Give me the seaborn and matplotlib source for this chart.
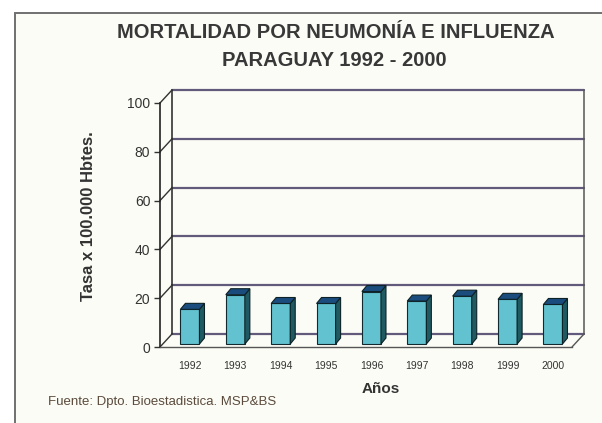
import matplotlib
matplotlib.use("Agg")
import matplotlib.pyplot as plt
import seaborn as sns
import pandas as pd
from matplotlib.transforms import ScaledTranslation
from matplotlib.patches import Polygon, Rectangle
from matplotlib.lines import Line2D

# ---- data ----
years = ["1992", "1993", "1994", "1995", "1996", "1997", "1998", "1999", "2000"]
rates = [14.2, 20.2, 16.6, 16.6, 21.5, 17.6, 19.6, 18.3, 16.2]
y_ticks = [0, 20, 40, 60, 80, 100]

title_lines = ["MORTALIDAD POR NEUMONÍA E INFLUENZA", "PARAGUAY 1992 - 2000"]
y_label = "Tasa x 100.000 Hbtes."
x_label = "Años"
source = "Fuente: Dpto. Bioestadistica. MSP&BS"

sns.set_theme(style="white")
plt.rcParams["font.family"] = ["Liberation Sans", "DejaVu Sans"]

W, H, DPI = 602, 423, 100
fig = plt.figure(figsize=(W / DPI, H / DPI), dpi=DPI)
fig.patch.set_facecolor("white")

# outer frame of the page
fig.patches.append(Rectangle((15 / W, -0.05), 1.1, (H - 13) / H + 0.05,
                             transform=fig.transFigure, facecolor="#fcfcf6",
                             edgecolor="#707070", lw=1.4, zorder=-5))

# axes = front plane of the 3D box
ax = fig.add_axes([160 / W, (H - 347) / H, (572 - 160) / W, (347 - 103) / H])
ax.set_facecolor("none")
ax.set_zorder(1)

df = pd.DataFrame({"year": years, "rate": rates})
front_col = "#63c2cf"
side_col = "#1f5a62"
top_col = "#1b4c7e"
sns.barplot(data=df, x="year", y="rate", color=front_col, width=0.42,
            saturation=1, edgecolor="#102a30", linewidth=0.8, ax=ax, zorder=5)

ax.set_ylim(0, 100)
ax.set_xlim(-0.66, 8.42)
ax.set_yticks(y_ticks)

# depth offsets
wall_dx, wall_dy = 12 / DPI, 13 / DPI
wall_tr = ax.transAxes + ScaledTranslation(wall_dx, wall_dy, fig.dpi_scale_trans)
wall_data_tr = ax.transData + ScaledTranslation(wall_dx, wall_dy, fig.dpi_scale_trans)
grid_col = "#625a7a"
xl = ax.get_xlim()

# back wall grid lines and left wall connectors
for t in y_ticks:
    ax.add_line(Line2D([xl[0], xl[1]], [t, t], transform=wall_data_tr,
                       color=grid_col, lw=1.6, zorder=1, clip_on=False))
    p0 = ax.transData.transform((xl[0], t))
    p1 = wall_data_tr.transform((xl[0], t))
    ax.add_line(Line2D([p0[0], p1[0]], [p0[1], p1[1]], transform=None,
                       color="#333333", lw=1.0, zorder=2, clip_on=False))

# back wall left and right verticals
ax.add_line(Line2D([0, 0], [0, 1], transform=wall_tr, color="#222222", lw=1.1,
                   zorder=1, clip_on=False))
ax.add_line(Line2D([1, 1], [0, 1], transform=wall_tr, color="#555555", lw=1.1,
                   zorder=1, clip_on=False))
q0 = ax.transAxes.transform((1, 0))
q1 = wall_tr.transform((1, 0))
ax.add_line(Line2D([q0[0], q1[0]], [q0[1], q1[1]], transform=None,
                   color="#555555", lw=1.0, zorder=2, clip_on=False))

# bars: slight shift into depth, then draw side and top faces
bar_tr = ax.transData + ScaledTranslation(0.0, 3 / DPI, fig.dpi_scale_trans)
bdx, bdy = 5, 6
for p in list(ax.patches):
    p.set_transform(bar_tr)
    x0, y0 = p.get_x(), p.get_y()
    w, h = p.get_width(), p.get_height()
    br = bar_tr.transform((x0 + w, y0))
    tl = bar_tr.transform((x0, y0 + h))
    trc = bar_tr.transform((x0 + w, y0 + h))
    side = Polygon([br, trc, (trc[0] + bdx, trc[1] + bdy), (br[0] + bdx, br[1] + bdy)],
                   closed=True, transform=None, facecolor=side_col,
                   edgecolor="#0c2226", lw=0.8, zorder=6, clip_on=False)
    top = Polygon([tl, trc, (trc[0] + bdx, trc[1] + bdy), (tl[0] + bdx, tl[1] + bdy)],
                  closed=True, transform=None, facecolor=top_col,
                  edgecolor="#0c2226", lw=0.8, zorder=6, clip_on=False)
    ax.add_artist(side)
    ax.add_artist(top)

# spines
for s in ["top", "right"]:
    ax.spines[s].set_visible(False)
ax.spines["left"].set_color("#222222")
ax.spines["left"].set_linewidth(1.2)
ax.spines["bottom"].set_color("#555555")
ax.spines["bottom"].set_linewidth(1.0)

ax.tick_params(axis="y", which="major", left=True, length=4, width=1,
               color="#333333", labelsize=10, labelcolor="#333333", pad=3)
ax.tick_params(axis="x", length=0, labelsize=7.5, labelcolor="#333333", pad=10)
ax.set_xlabel("")
ax.set_ylabel("")

# labels
fig.text(88 / W, 1 - 216 / H, y_label, rotation=90, ha="center", va="center",
         fontsize=12, fontweight="bold", color="#333333")
fig.text(381 / W, 1 - 389 / H, x_label, ha="center", va="center",
         fontsize=11, fontweight="bold", color="#333333")
fig.text(336 / W, 1 - 32 / H, title_lines[0], ha="center", va="center",
         fontsize=14.5, fontweight="bold", color="#383838")
fig.text(334 / W, 1 - 60 / H, title_lines[1], ha="center", va="center",
         fontsize=14.5, fontweight="bold", color="#383838")
fig.text(48 / W, 1 - 402 / H, source, ha="left", va="center",
         fontsize=9.5, color="#5a4b3c")

fig.savefig("out.png", dpi=DPI)
